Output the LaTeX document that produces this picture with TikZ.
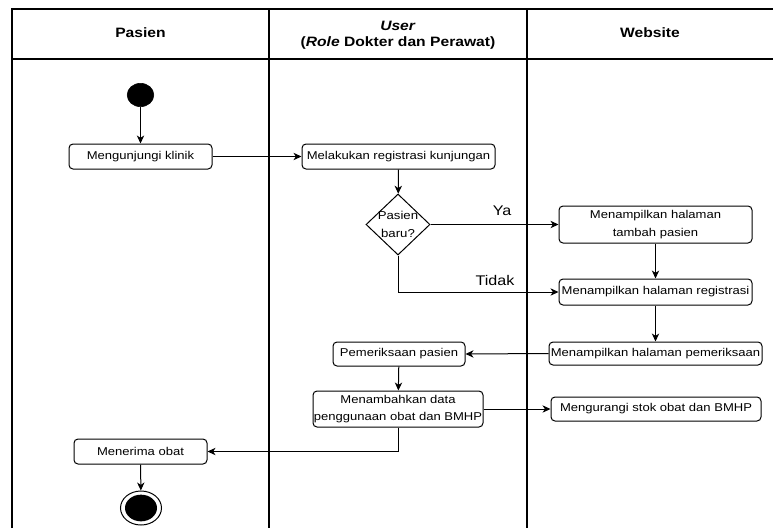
\documentclass[tikz,border=0pt]{standalone}
\usepackage{fontspec}
\setmainfont{Liberation Sans}[FakeStretch=1.15]
\usetikzlibrary{arrows.meta,shapes.geometric}
\newcommand\zw[1]{\makebox[0pt]{#1}}
\begin{document}
\begin{tikzpicture}[x=0.75pt,y=-0.75pt,
  box/.style={draw, rounded corners=3pt, line width=0.75pt, inner sep=0pt, align=center,
    font=\fontsize{8.5}{13}\selectfont},
  decision/.style={draw, diamond, line width=0.75pt, inner sep=0pt, aspect=1,
    minimum width=48pt, minimum height=45.75pt, align=center, font=\fontsize{8.6}{13.5}\selectfont},
  lanehead/.style={font=\fontsize{10.2}{12}\selectfont\bfseries, align=center},
  guardlbl/.style={font=\fontsize{10.5}{12}\selectfont},
  flow/.style={line width=0.75pt, -{Stealth[length=6pt,width=5.5pt,inset=1.8pt]}},
  lane/.style={line width=1.1pt}]
\useasboundingbox (0,0) rectangle (773,528);
% swimlane table
\draw[lane] (12,528) -- (12,9) -- (773,9);
\draw[lane] (12,59) -- (773,59);
\draw[lane] (269,9) -- (269,528);
\draw[lane] (527,9) -- (527,528);
\node[lanehead] (h1) at (140.5,33) {Pasien};
\node[lanehead] (h2) at (398,35) {\textit{User}\\(\textit{Role} Dokter dan Perawat)};
\node[lanehead] (h3) at (650,33) {Website};
% nodes
\node[draw, fill=black, ellipse, minimum width=20pt, minimum height=17.5pt, inner sep=0pt] (start) at (140.5,95) {};
\node[box, minimum width=107.25pt, minimum height=18.75pt] (klinik) at (140.5,156.5) {\zw{Mengunjungi klinik}};
\node[box, minimum width=144.75pt, minimum height=18.75pt] (regk) at (398.5,156.5) {\zw{Melakukan registrasi kunjungan}};
\node[decision] (dia) at (398,224.5) {\zw{Pasien}\\\zw{baru?}};
\node[box, minimum width=144.75pt, minimum height=27.75pt] (tambah) at (655.5,224.5) {\zw{Menampilkan halaman}\\\zw{tambah pasien}};
\node[box, minimum width=144.75pt, minimum height=19.5pt] (reg) at (655.5,292) {\zw{Menampilkan halaman registrasi}};
\node[box, minimum width=159.75pt, minimum height=17.25pt] (pemw) at (655.5,353.5) {\zw{Menampilkan halaman pemeriksaan}};
\node[box, minimum width=157.5pt, minimum height=18pt] (kurang) at (656,409) {\zw{Mengurangi stok obat dan BMHP}};
\node[box, minimum width=99pt, minimum height=18pt] (pemp) at (399,354) {\zw{Pemeriksaan pasien}};
\node[box, minimum width=127.5pt, minimum height=27pt] (tambahdata) at (398,409) {\zw{Menambahkan data}\\\zw{penggunaan obat dan BMHP}};
\node[box, minimum width=99.75pt, minimum height=18.75pt] (terima) at (140.5,451.5) {\zw{Menerima obat}};
\node[draw, ellipse, line width=0.75pt, minimum width=30.75pt, minimum height=25.5pt, inner sep=0pt] (end) at (141,508) {};
\node[fill=black, ellipse, minimum width=24pt, minimum height=20pt, inner sep=0pt] (endin) at (141,508) {};
% labels
\node[guardlbl] (ya) at (502,211) {Ya};
\node[guardlbl] (tidak) at (495,280) {Tidak};
% connectors
\draw[flow] (start) -- (klinik);
\draw[flow] (klinik) -- (regk);
\draw[flow] (regk) -- (dia);
\draw[flow] (dia.east) -- (tambah.west);
\draw[flow] (dia.south) |- (reg.west);
\draw[flow] (tambah) -- (reg);
\draw[flow] (reg) -- (pemw);
\draw[flow] (pemw.west) -- (pemp.east);
\draw[flow] (pemp) -- (tambahdata);
\draw[flow] (tambahdata.east) -- (kurang.west);
\draw[flow] (tambahdata.south) |- (terima.east);
\draw[flow] (terima) -- (end);
\end{tikzpicture}
\end{document}
